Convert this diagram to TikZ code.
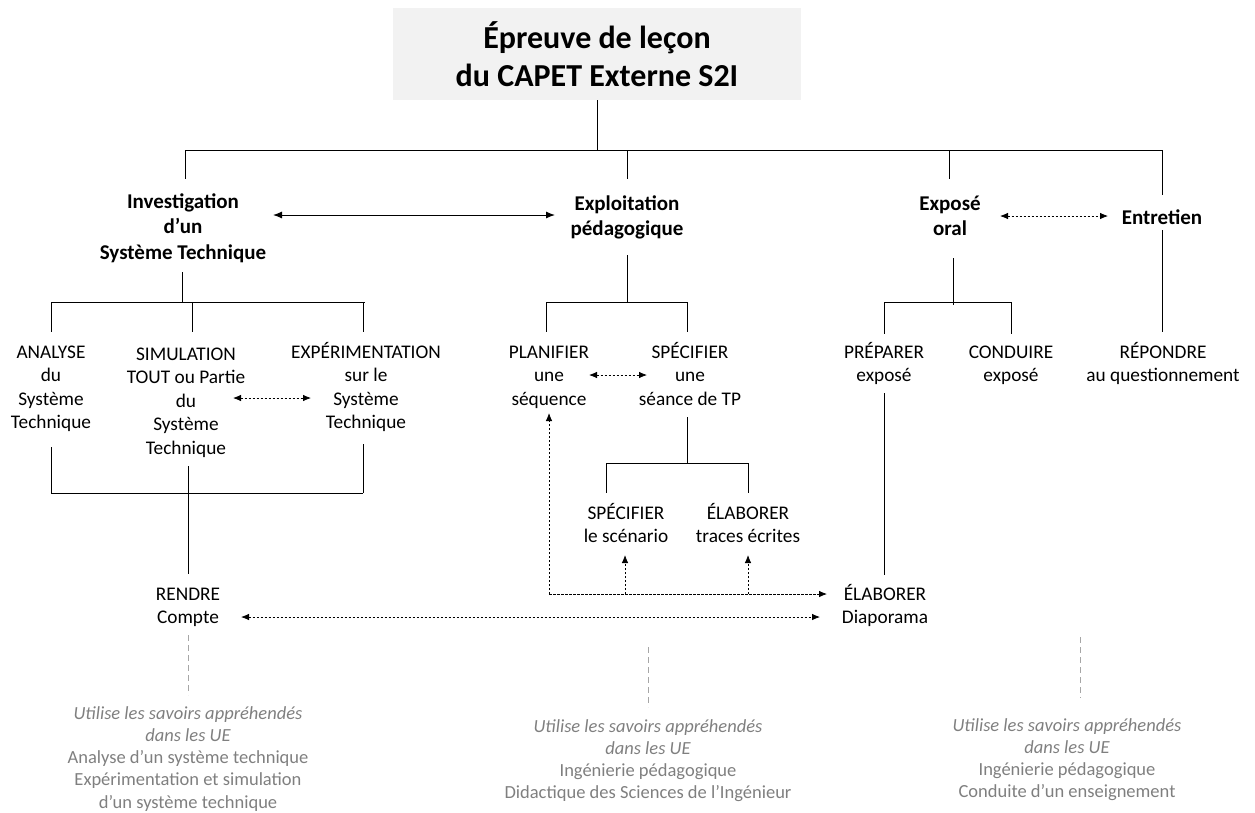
\documentclass[tikz,border=0pt]{standalone}
\usepackage{fontspec}
\setmainfont{Carlito}
\usetikzlibrary{arrows.meta}
\definecolor{boxgray}{HTML}{F2F2F2}
\definecolor{notegray}{HTML}{7F7F7F}
\definecolor{linegray}{HTML}{A6A6A6}
\newcommand\ml[1]{\begin{tabular}[t]{@{}c@{}}#1\end{tabular}}
\begin{document}
\begin{tikzpicture}[x=1pt,y=-1pt,
  txt/.style={anchor=base,inner sep=0pt,font=\fontsize{19.3}{23.5}\selectfont},
  head/.style={anchor=base,inner sep=0pt,font=\fontsize{21}{25.5}\selectfont\bfseries},
  note/.style={anchor=base,inner sep=0pt,text=notegray,font=\fontsize{18.5}{22.3}\selectfont},
  conn/.style={line width=0.9pt},
  biarrow/.style={line width=1pt,{Latex[length=9pt,width=7pt]}-{Latex[length=9pt,width=7pt]}},
  dbiarrow/.style={line width=0.8pt,dash pattern=on 2.5pt off 1.5pt,{Latex[length=8pt,width=6.5pt]}-{Latex[length=8pt,width=6.5pt]}},
  darrow/.style={line width=0.8pt,dash pattern=on 2.5pt off 1.5pt,-{Latex[length=8pt,width=6.5pt]}},
  gline/.style={line width=0.8pt,draw=linegray,dash pattern=on 6pt off 4pt}]
\useasboundingbox (0,0) rectangle (1255,812);

% title
\node[fill=boxgray,minimum width=408pt,minimum height=92pt,inner sep=0pt,align=center,
  font=\fontsize{32}{38}\selectfont\bfseries] (title) at (597,54) {Épreuve de leçon\\du CAPET Externe S2I};

% level 1
\node[head] (inv) at (183,208) {\ml{Investigation\\d’un\\Système Technique}};
\node[head] (expl) at (627,210) {\ml{Exploitation\\pédagogique}};
\node[head] (expo) at (950,210) {\ml{Exposé\\oral}};
\node[head] (entr) at (1162,224) {Entretien};

% level 2
\node[txt] (ana) at (51,358) {\ml{ANALYSE\\du\\Système\\Technique}};
\node[txt] (sim) at (186,360) {\ml{SIMULATION\\TOUT ou Partie\\du\\Système\\Technique}};
\node[txt] (exp) at (366,358) {\ml{EXPÉRIMENTATION\\sur le\\Système\\Technique}};
\node[txt] (plan) at (549,358) {\ml{PLANIFIER\\une\\séquence}};
\node[txt] (spec) at (690,358) {\ml{SPÉCIFIER\\une\\séance de TP}};
\node[txt] (prep) at (884,358) {\ml{PRÉPARER\\exposé}};
\node[txt] (cond) at (1011,358) {\ml{CONDUIRE\\exposé}};
\node[txt] (rep) at (1163,358) {\ml{RÉPONDRE\\au questionnement}};

% level 3
\node[txt] (scen) at (626,519) {\ml{SPÉCIFIER\\le scénario}};
\node[txt] (trac) at (748,519) {\ml{ÉLABORER\\traces écrites}};
\node[txt] (rend) at (188,600) {\ml{RENDRE\\Compte}};
\node[txt] (diap) at (885,600) {\ml{ÉLABORER\\Diaporama}};

% notes
\node[note] (n1) at (188,719) {\ml{\textit{Utilise les savoirs appréhendés}\\\textit{dans les UE}\\Analyse d’un système technique\\Expérimentation et simulation\\d’un système technique}};
\node[note] (n2) at (648,732) {\ml{\textit{Utilise les savoirs appréhendés}\\\textit{dans les UE}\\Ingénierie pédagogique\\Didactique des Sciences de l’Ingénieur}};
\node[note] (n3) at (1067,731) {\ml{\textit{Utilise les savoirs appréhendés}\\\textit{dans les UE}\\Ingénierie pédagogique\\Conduite d’un enseignement}};

% coordinates of the tree
\coordinate (t0) at (597,150);
\coordinate (b1a) at (185,150);
\coordinate (b1b) at (627,150);
\coordinate (b1c) at (949,150);
\coordinate (b1d) at (1162,150);
\coordinate (invtop) at (185,179);
\coordinate (expltop) at (627,179);
\coordinate (expotop) at (949,179);
\coordinate (entrtop) at (1162,195);

\draw[conn] (title.south) -- (t0);
\draw[conn] (b1a) -- (b1d);
\draw[conn] (b1a) -- (invtop);
\draw[conn] (b1b) -- (expltop);
\draw[conn] (b1c) -- (expotop);
\draw[conn] (b1d) -- (entrtop);

% level 1 arrows
\coordinate (a1s) at (273,215);
\coordinate (a1e) at (555,215);
\draw[biarrow] (a1s) -- (a1e);
\coordinate (a2s) at (1000,216);
\coordinate (a2e) at (1108,216);
\draw[dbiarrow] (a2s) -- (a2e);

% investigation subtree
\coordinate (invbot) at (182,272);
\coordinate (b2a) at (51,302);
\coordinate (b2m) at (182,302);
\coordinate (b2b) at (192,302);
\coordinate (b2c) at (363,302);
\coordinate (anatop) at (51,332);
\coordinate (simtop) at (192,332);
\coordinate (exptop) at (363,332);
\draw[conn] (invbot) -- (b2m);
\draw[conn] (b2a) -- (365,302);
\draw[conn] (b2a) -- (anatop);
\draw[conn] (b2b) -- (simtop);
\draw[conn] (b2c) -- (exptop);

% exploitation subtree
\coordinate (explbot) at (627,255);
\coordinate (b3m) at (627,302);
\coordinate (b3a) at (546,302);
\coordinate (b3b) at (687,302);
\coordinate (plantop) at (546,332);
\coordinate (spectop) at (687,332);
\draw[conn] (explbot) -- (b3m);
\draw[conn] (b3a) -- (b3b);
\draw[conn] (b3a) -- (plantop);
\draw[conn] (b3b) -- (spectop);

% expose subtree
\coordinate (expobot) at (953,258);
\coordinate (b4m) at (953,305);
\coordinate (b4a) at (884,302);
\coordinate (b4b) at (1011,302);
\coordinate (preptop) at (884,334);
\coordinate (condtop) at (1011,334);
\draw[conn] (expobot) -- (b4m);
\draw[conn] (b4a) -- (b4b);
\draw[conn] (b4a) -- (preptop);
\draw[conn] (b4b) -- (condtop);

% entretien
\coordinate (entrbot) at (1162,230);
\coordinate (reptop) at (1162,332);
\draw[conn] (entrbot) -- (reptop);

% level 2 arrows
\coordinate (a3s) at (233,398);
\coordinate (a3e) at (311,398);
\draw[dbiarrow] (a3s) -- (a3e);
\coordinate (a4s) at (589,375);
\coordinate (a4e) at (647,375);
\draw[dbiarrow] (a4s) -- (a4e);

% investigation join
\coordinate (anabot) at (51,447);
\coordinate (expbot) at (363,444);
\coordinate (j1) at (51,493);
\coordinate (j2) at (363,493);
\draw[conn] (anabot) -- (j1);
\draw[conn] (expbot) -- (j2);
\draw[conn] (j1) -- (j2);
\coordinate (simbot) at (188,466);
\coordinate (rendtop) at (188,574);
\draw[conn] (simbot) -- (rendtop);

% spec subtree
\coordinate (specbot) at (687,417);
\coordinate (b5m) at (687,463);
\coordinate (b5a) at (606,463);
\coordinate (b5b) at (748,463);
\coordinate (scentop) at (606,493);
\coordinate (tractop) at (748,493);
\draw[conn] (specbot) -- (b5m);
\draw[conn] (b5a) -- (b5b);
\draw[conn] (b5a) -- (scentop);
\draw[conn] (b5b) -- (tractop);

% preparer -> diaporama
\coordinate (prepbot) at (884,393);
\coordinate (diaptop) at (884,575);
\draw[conn] (prepbot) -- (diaptop);

% dashed feedback from diaporama
\coordinate (d0) at (549,594);
\coordinate (d1) at (625,594);
\coordinate (d2) at (748,594);
\coordinate (dend) at (827,594);
\coordinate (plantip) at (549,413);
\coordinate (scentip) at (625,555);
\coordinate (tractip) at (748,555);
\draw[darrow] (d0) -- (plantip);
\draw[darrow] (d0) -- (dend);
\draw[darrow] (d1) -- (scentip);
\draw[darrow] (d2) -- (tractip);

% rendre <-> diaporama
\coordinate (a5s) at (241,617);
\coordinate (a5e) at (820,617);
\draw[dbiarrow] (a5s) -- (a5e);

% gray dashed to notes
\coordinate (g1a) at (188,635);
\coordinate (g1b) at (188,695);
\coordinate (g2a) at (648,647);
\coordinate (g2b) at (648,707);
\coordinate (g3a) at (1080,637);
\coordinate (g3b) at (1080,698);
\draw[gline] (g1a) -- (g1b);
\draw[gline] (g2a) -- (g2b);
\draw[gline] (g3a) -- (g3b);
\end{tikzpicture}
\end{document}
